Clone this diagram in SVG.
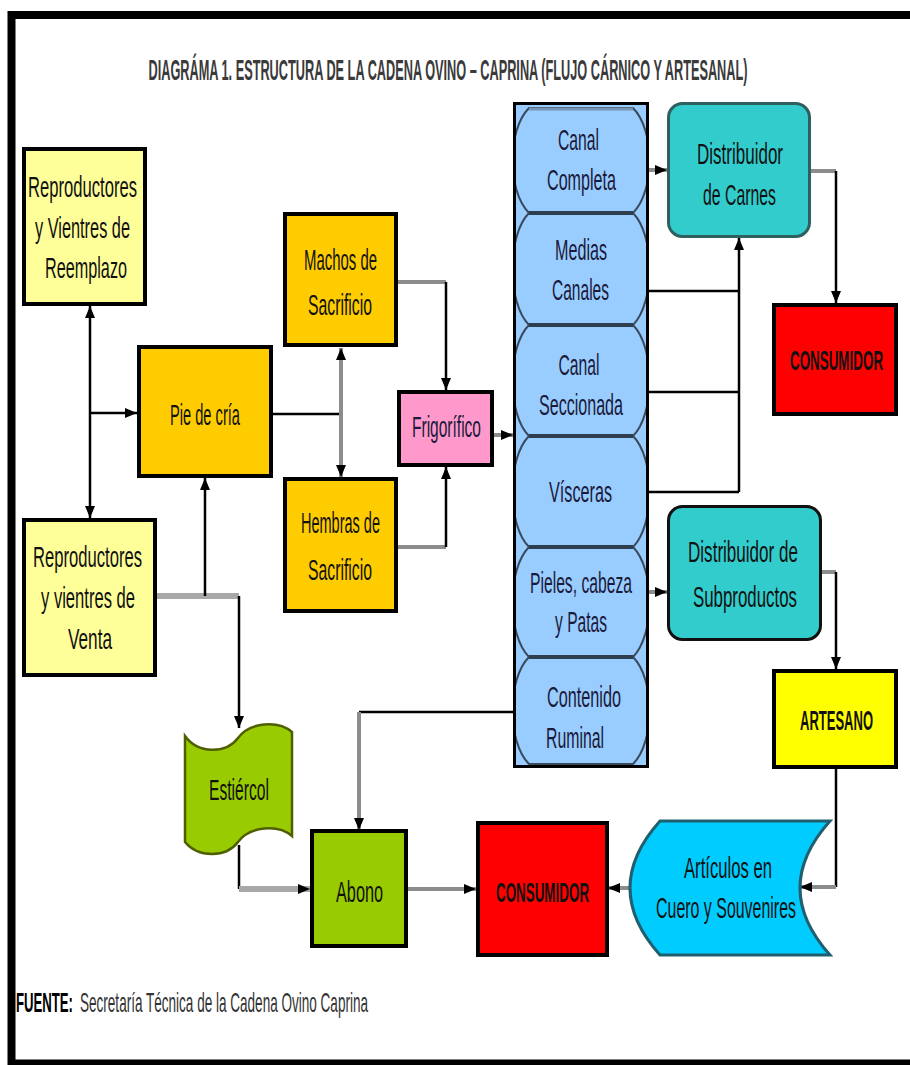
<svg xmlns="http://www.w3.org/2000/svg" width="910" height="1065" viewBox="0 0 910 1065">
<style>
.t{font-family:"Liberation Sans",Arial,sans-serif;font-size:30px;fill:#111;text-anchor:middle}
.tb{font-family:"Liberation Sans",Arial,sans-serif;font-size:28px;font-weight:bold;fill:#111;text-anchor:middle}
.tc{fill:#1a1a3a}
.box{stroke:#000;stroke-width:4}
.k{fill:none;stroke:#000;stroke-width:2.5}
.g{fill:none;stroke:#8c8c8c;stroke-width:4}
.gt{fill:none;stroke:#a8a8a8;stroke-width:6}
.cell{fill:#99CCFF;stroke:#3a4a5a;stroke-width:2}
.sep{stroke:#2e3e4e;stroke-width:4}
.dist{fill:#33CCCC;stroke:#2f5f5f;stroke-width:3}
</style>
<defs>
<marker id="a" viewBox="0 0 12 10" refX="12" refY="5" markerWidth="12" markerHeight="10" markerUnits="userSpaceOnUse" orient="auto-start-reverse">
<path d="M0,0 L12,5 L0,10 Z" fill="#000"/>
</marker>
<clipPath id="colclip"><rect x="516" y="105" width="130" height="660"/></clipPath>
</defs>
<rect width="910" height="1065" fill="#fff"/>
<rect x="11.5" y="15" width="920" height="1048.5" fill="none" stroke="#000" stroke-width="8"/>

<text transform="translate(448,80) scale(0.5,1)" class="t" style="font-weight:bold;fill:#3a3a3a;font-size:29px" textLength="1198" lengthAdjust="spacingAndGlyphs">DIAGRÁMA 1. ESTRUCTURA DE LA CADENA OVINO – CAPRINA (FLUJO CÁRNICO Y ARTESANAL)</text>

<g id="connectors">
<path class="k" d="M90,306 V518" marker-start="url(#a)" marker-end="url(#a)"/>
<path class="k" d="M90,413 H137" marker-end="url(#a)"/>
<path class="k" d="M273,414 H341"/>
<path class="g" d="M341,348 V477" marker-start="url(#a)" marker-end="url(#a)"/>
<path class="g" d="M398,282 H446"/>
<path class="k" d="M446,282 V390" marker-end="url(#a)"/>
<path class="g" d="M398,547 H446"/>
<path class="k" d="M446,547 V467" marker-end="url(#a)"/>
<path class="g" d="M494,435 H513" marker-end="url(#a)"/>
<path class="g" d="M649,170 H667" marker-end="url(#a)"/>
<path class="k" d="M649,291 H739 M649,392 H739 M649,492 H739"/>
<path class="k" d="M739,492 V238" marker-end="url(#a)"/>
<path class="g" d="M810,171 H836"/>
<path class="k" d="M836,171 V303" marker-end="url(#a)"/>
<path class="g" d="M649,592 H667" marker-end="url(#a)"/>
<path class="g" d="M821,572 H836"/>
<path class="k" d="M836,572 V669" marker-end="url(#a)"/>
<path class="k" d="M836,769 V887"/>
<path class="g" d="M836,887 H800" marker-end="url(#a)"/>
<path class="g" d="M630,888 H608" marker-end="url(#a)"/>
<path class="g" d="M408,889 H476" marker-end="url(#a)"/>
<path class="k" d="M239,845 V889"/>
<path class="gt" d="M239,889 H310" marker-end="url(#a)"/>
<path class="gt" d="M157,596 H239"/>
<path class="k" d="M205,596 V478" marker-end="url(#a)"/>
<path class="k" d="M239,596 V728" marker-end="url(#a)"/>
<path class="k" d="M513,712 H359"/>
<path class="g" d="M359,712 V830" marker-end="url(#a)"/>
</g>

<g id="reproductores-reemplazo">
<rect class="box" x="24" y="149" width="121" height="155" fill="#FFFF99"/>
<text class="t" x="82.5" y="197" textLength="109" lengthAdjust="spacingAndGlyphs">Reproductores</text>
<text class="t" x="82.5" y="238" textLength="95" lengthAdjust="spacingAndGlyphs">y Vientres de</text>
<text class="t" x="86" y="278" textLength="82" lengthAdjust="spacingAndGlyphs">Reemplazo</text>
</g>

<g id="pie-de-cria">
<rect class="box" x="139" y="347" width="132" height="129" fill="#FFCC00"/>
<text class="t" x="205" y="425" textLength="70" lengthAdjust="spacingAndGlyphs">Pie de cría</text>
</g>

<g id="machos">
<rect class="box" x="285" y="214" width="111" height="131" fill="#FFCC00"/>
<text class="t" x="340.5" y="270" textLength="73" lengthAdjust="spacingAndGlyphs">Machos de</text>
<text class="t" x="340" y="315" textLength="64" lengthAdjust="spacingAndGlyphs">Sacrificio</text>
</g>

<g id="hembras">
<rect class="box" x="285" y="479" width="111" height="132" fill="#FFCC00"/>
<text class="t" x="340.5" y="533" textLength="79" lengthAdjust="spacingAndGlyphs">Hembras de</text>
<text class="t" x="340" y="580" textLength="64" lengthAdjust="spacingAndGlyphs">Sacrificio</text>
</g>

<g id="frigorifico">
<rect class="box" x="399" y="392" width="93" height="73" fill="#FF99CC"/>
<text class="t tc" x="446.5" y="437" textLength="69" lengthAdjust="spacingAndGlyphs">Frigorífico</text>
</g>

<g id="cortes">
<rect x="514.5" y="103.5" width="133" height="663" fill="#99CCFF" stroke="#000" stroke-width="3"/>
<g clip-path="url(#colclip)">
<path class="cell" d="M529,108 H633 C655,130 655,191 633,213 H529 C507,191 507,130 529,108 Z"/>
<path class="cell" d="M529,213 H633 C655,235 655,303 633,325 H529 C507,303 507,235 529,213 Z"/>
<path class="cell" d="M529,325 H633 C655,347 655,414 633,436 H529 C507,414 507,347 529,325 Z"/>
<path class="cell" d="M529,436 H633 C655,458 655,525 633,547 H529 C507,525 507,458 529,436 Z"/>
<path class="cell" d="M529,547 H633 C655,569 655,635 633,657 H529 C507,635 507,569 529,547 Z"/>
<path class="cell" d="M529,657 H633 C655,679 655,742 633,764 H529 C507,742 507,679 529,657 Z"/>
</g>
<path class="sep" d="M529,213 H633 M529,325 H633 M529,436 H633 M529,547 H633 M529,657 H633"/>
<path d="M529,109 H633" stroke="#7796b6" stroke-width="3"/>
<text class="t tc" x="578.5" y="150" textLength="41" lengthAdjust="spacingAndGlyphs">Canal</text>
<text class="t tc" x="581.5" y="190" textLength="69" lengthAdjust="spacingAndGlyphs">Completa</text>
<text class="t tc" x="581" y="260" textLength="52" lengthAdjust="spacingAndGlyphs">Medias</text>
<text class="t tc" x="580.5" y="300" textLength="57" lengthAdjust="spacingAndGlyphs">Canales</text>
<text class="t tc" x="579" y="375" textLength="41" lengthAdjust="spacingAndGlyphs">Canal</text>
<text class="t tc" x="581" y="415" textLength="84" lengthAdjust="spacingAndGlyphs">Seccionada</text>
<text class="t tc" x="580.5" y="502" textLength="63" lengthAdjust="spacingAndGlyphs">Vísceras</text>
<text class="t tc" x="581" y="593" textLength="102" lengthAdjust="spacingAndGlyphs">Pieles, cabeza</text>
<text class="t tc" x="581" y="632" textLength="52" lengthAdjust="spacingAndGlyphs">y Patas</text>
<text class="t tc" x="584" y="707" textLength="74" lengthAdjust="spacingAndGlyphs">Contenido</text>
<text class="t tc" x="575" y="748" textLength="58" lengthAdjust="spacingAndGlyphs">Ruminal</text>
</g>

<g id="distribuidor-carnes">
<rect class="dist" x="668.5" y="103.5" width="141" height="133" rx="14"/>
<text class="t" x="740" y="164" textLength="86" lengthAdjust="spacingAndGlyphs">Distribuidor</text>
<text class="t" x="739.5" y="205" textLength="73" lengthAdjust="spacingAndGlyphs">de Carnes</text>
</g>

<g id="consumidor-1">
<rect class="box" x="774" y="305" width="122" height="109" fill="#FF0000"/>
<text class="tb" transform="translate(836.5,370) scale(0.48,1)" textLength="194" lengthAdjust="spacingAndGlyphs">CONSUMIDOR</text>
</g>

<g id="distribuidor-subproductos">
<rect class="dist" x="668.5" y="506.5" width="152" height="133" rx="14" style="stroke:#111"/>
<text class="t" x="743" y="562" textLength="110" lengthAdjust="spacingAndGlyphs">Distribuidor de</text>
<text class="t" x="745" y="607" textLength="104" lengthAdjust="spacingAndGlyphs">Subproductos</text>
</g>

<g id="artesano">
<rect class="box" x="774" y="671" width="122" height="96" fill="#FFFF00"/>
<text class="tb" transform="translate(836.5,730) scale(0.465,1)" textLength="157" lengthAdjust="spacingAndGlyphs">ARTESANO</text>
</g>

<g id="reproductores-venta">
<rect class="box" x="24" y="520" width="131" height="155" fill="#FFFF99"/>
<text class="t" x="87.5" y="567" textLength="109" lengthAdjust="spacingAndGlyphs">Reproductores</text>
<text class="t" x="88" y="608" textLength="94" lengthAdjust="spacingAndGlyphs">y vientres de</text>
<text class="t" x="90" y="649" textLength="44" lengthAdjust="spacingAndGlyphs">Venta</text>
</g>

<g id="estiercol">
<path d="M185,736 C198,754 226,754 238,738 C250,722 278,720 292,732 L292,836 C278,824 250,826 238,842 C226,858 198,858 185,842 Z" fill="#99CC00" stroke="#4f5f00" stroke-width="2.5"/>
<text class="t" x="239" y="800" textLength="60" lengthAdjust="spacingAndGlyphs">Estiércol</text>
</g>

<g id="abono">
<rect class="box" x="312" y="831" width="94" height="115" fill="#99CC00"/>
<text class="t" x="359.5" y="902" textLength="47" lengthAdjust="spacingAndGlyphs">Abono</text>
</g>

<g id="consumidor-2">
<rect class="box" x="478" y="823" width="129" height="132" fill="#FF0000"/>
<text class="tb" transform="translate(542.5,902) scale(0.48,1)" textLength="194" lengthAdjust="spacingAndGlyphs">CONSUMIDOR</text>
</g>

<g id="articulos">
<path d="M660,821 H830 Q770,888 830,955 H660 Q600,888 660,821 Z" fill="#00CCFF" stroke="#1f5f6f" stroke-width="3"/>
<text class="t" transform="translate(728,878) scale(0.5,1)" textLength="176" lengthAdjust="spacingAndGlyphs">Artículos en</text>
<text class="t" transform="translate(726,918) scale(0.5,1)" textLength="280" lengthAdjust="spacingAndGlyphs">Cuero y Souvenires</text>
</g>

<text transform="translate(16,1012) scale(0.5,1)" style="font-family:'Liberation Sans',Arial,sans-serif;font-size:27px;font-weight:bold;fill:#000" textLength="114" lengthAdjust="spacingAndGlyphs">FUENTE:</text>
<text transform="translate(80,1012) scale(0.5,1)" style="font-family:'Liberation Sans',Arial,sans-serif;font-size:27px;fill:#333" textLength="576" lengthAdjust="spacingAndGlyphs">Secretaría Técnica de la Cadena Ovino Caprina</text>
</svg>
